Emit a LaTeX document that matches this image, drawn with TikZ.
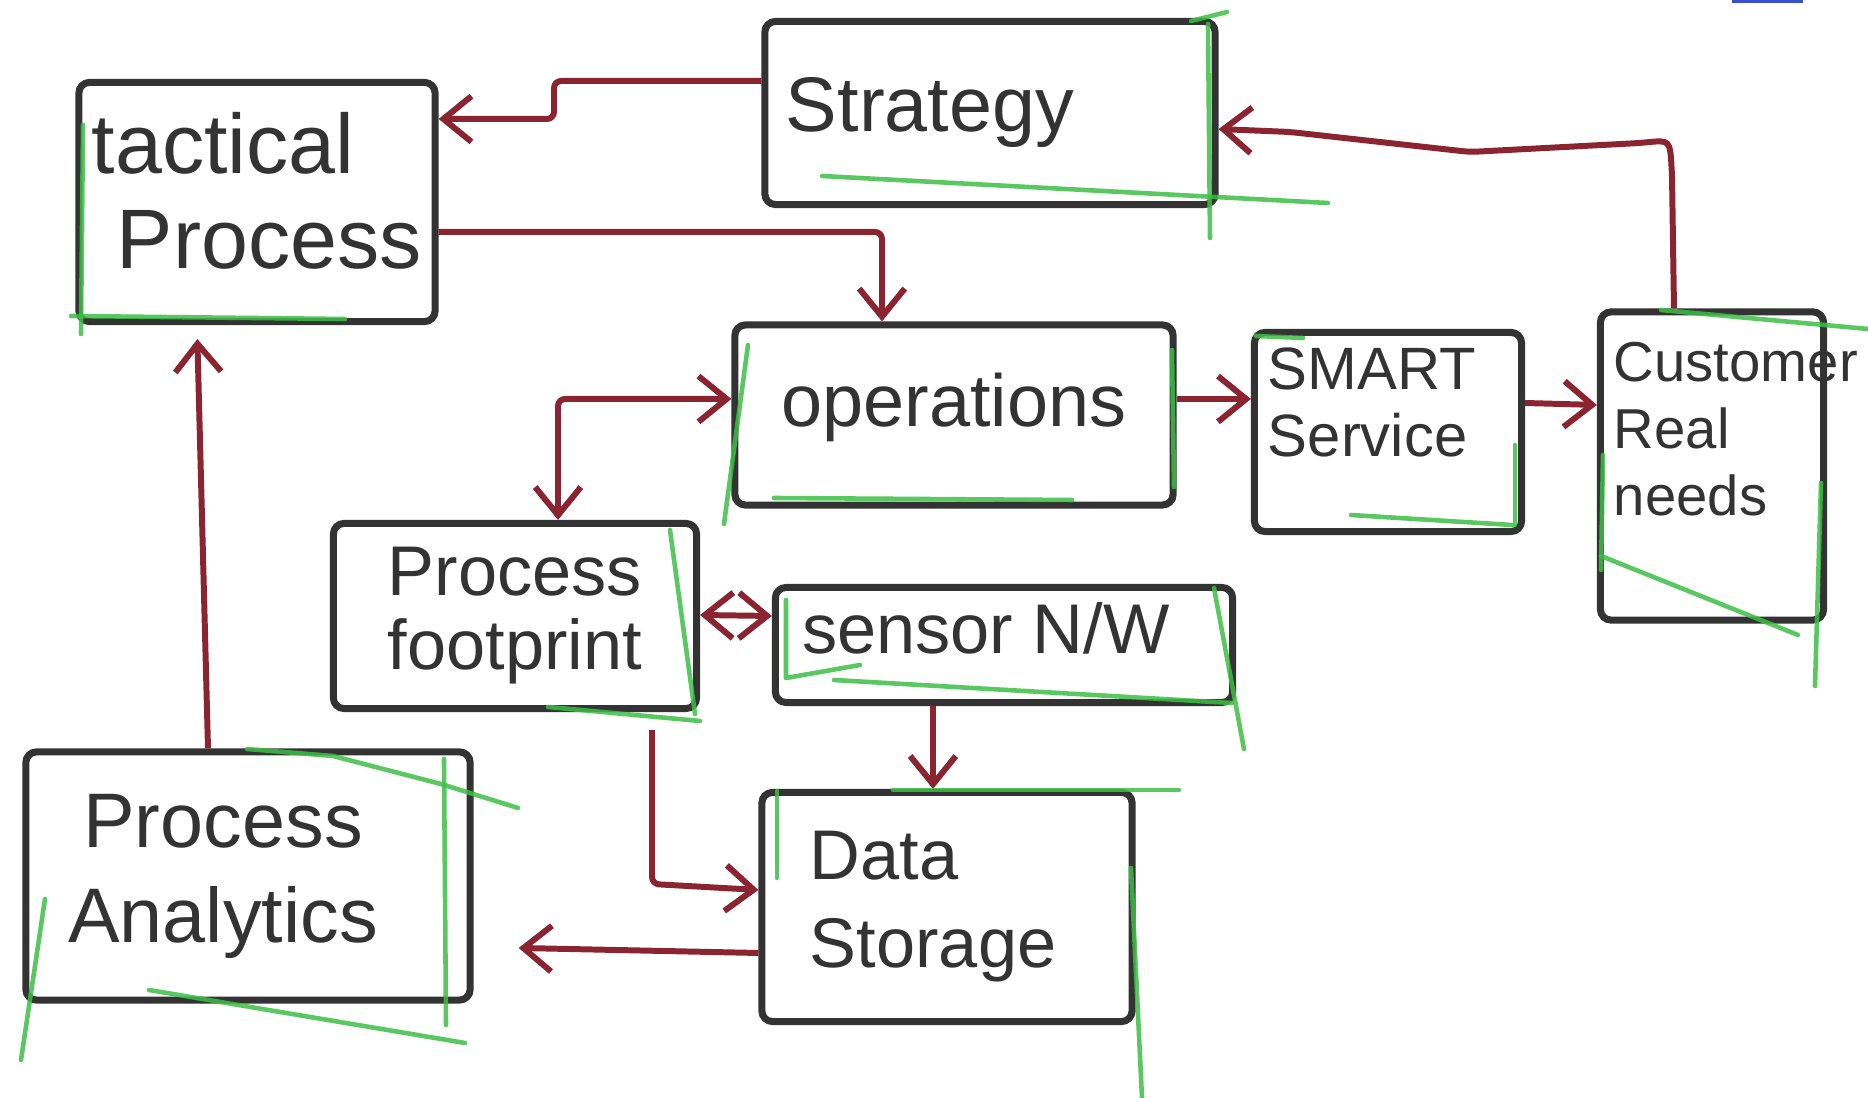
\documentclass[tikz,border=0pt]{standalone}
\usepackage{fontspec}
\setmainfont{Liberation Sans}
\usetikzlibrary{arrows.meta}
\definecolor{ink}{HTML}{333333}
\definecolor{redink}{HTML}{8A2430}
\definecolor{hl}{HTML}{3DBE45}
\definecolor{blueink}{HTML}{3A4FD0}
\newcommand{\padbelow}[1]{\rule[-#1]{0pt}{0pt}}
\begin{document}
\begin{tikzpicture}[x=0.01cm,y=-0.01cm,
  >={Straight Barb[length=8pt,width=13pt]},
  box/.style={draw=ink, line width=2pt, rounded corners=3pt, text=ink, inner sep=0pt},
  conn/.style={draw=redink, line width=1.7pt, ->, rounded corners=2pt},
  bi/.style={draw=redink, line width=1.7pt, <->, rounded corners=2pt},
  hlmark/.style={draw=hl, line width=1.3pt, opacity=0.85, line cap=round, line join=round},
]
\useasboundingbox (0,0) rectangle (1868,1098);

% boxes
\node[box, minimum width=4.5cm, minimum height=1.83cm, font=\fontsize{22}{26}\selectfont] (strat) at (990,113) {Strategy\hspace{1.2cm}\mbox{}};
\node[box, minimum width=3.56cm, minimum height=2.39cm, text width=3.3cm, align=left, font=\fontsize{24}{27}\selectfont] (tact) at (257,202) {tactical\\\hspace*{0.25cm}Process\padbelow{0.24cm}};
\node[box, minimum width=4.38cm, minimum height=1.8cm, font=\fontsize{21}{25}\selectfont] (ops) at (954,415) {operations\padbelow{0.3cm}};
\node[box, minimum width=2.67cm, minimum height=1.99cm, text width=2.4cm, align=left, font=\fontsize{17}{19}\selectfont] (smart) at (1388,432) {SMART\\Service\padbelow{0.6cm}};
\node[box, minimum width=2.23cm, minimum height=3.08cm, text width=1.96cm, align=left, font=\fontsize{16}{19}\selectfont] (cust) at (1712,466) {Customer\\Real\\needs\padbelow{0.74cm}};
\node[box, minimum width=3.63cm, minimum height=1.85cm, align=center, font=\fontsize{20}{21}\selectfont] (fp) at (515,616) {Process\\footprint};
\node[box, minimum width=4.57cm, minimum height=1.15cm, font=\fontsize{20}{24}\selectfont] (sens) at (1004,645) {sensor N/W\hspace{0.36cm}\padbelow{0.34cm}};
\node[box, minimum width=4.44cm, minimum height=2.48cm, align=center, font=\fontsize{22}{27}\selectfont] (pa) at (248,876) {Process\hspace{0.5cm}\mbox{}\\Analytics\hspace{0.5cm}\mbox{}};
\node[box, minimum width=3.7cm, minimum height=2.29cm, text width=2.74cm, align=left, font=\fontsize{20}{25}\selectfont] (ds) at (947,907) {Data\\Storage};

% connectors
\draw[conn] (strat.west |- 0,81) -- (554,81) -- (554,119) -- (tact.east |- 0,119);
\draw[conn] (tact.east |- 0,232) -- (882,232) -- (ops.north -| 882,0);
\draw[conn] (cust.north -| 1674,0) -- (1672,175) .. controls (1670,140) .. (1640,143) -- (1470,152) -- (1290,132) -- (strat.east |- 0,129);
\draw[conn] (ops.east |- 0,399) -- (smart.west |- 0,399);
\draw[conn] (smart.east |- 0,403) -- (cust.west |- 0,405);
\draw[bi] (ops.west |- 0,399) -- (558,399) -- (fp.north -| 558,0);
\draw[bi] (fp.east |- 0,615) -- (sens.west |- 0,616);
\draw[conn] (sens.south -| 933,0) -- (ds.north -| 933,0);
\draw[conn, shorten <=0.18cm] (fp.south -| 652,0) -- (652,884) -- (ds.west |- 0,890);
\draw[conn, shorten >=0.45cm] (ds.west |- 0,953) -- (pa.east |- 0,947);
\draw[conn, shorten >=0.14cm] (pa.north -| 208,0) -- (tact.south -| 197,0);

% green highlight strokes
\draw[hlmark] (83,125) -- (81,334);
\draw[hlmark] (71,316) -- (345,319);
\draw[hlmark] (1191,21) -- (1227,12);
\draw[hlmark] (1208,24) -- (1210,238);
\draw[hlmark] (822,176) -- (1328,203);
\draw[hlmark] (748,345) -- (724,524);
\draw[hlmark] (774,498) -- (1072,500);
\draw[hlmark] (1172,350) -- (1174,487);
\draw[hlmark] (1256,336) -- (1303,338);
\draw[hlmark] (1351,515) -- (1512,525);
\draw[hlmark] (1515,445) -- (1515,525);
\draw[hlmark] (1661,310) -- (1868,329);
\draw[hlmark] (1603,455) -- (1601,570);
\draw[hlmark] (1601,556) -- (1798,635);
\draw[hlmark] (1821,483) -- (1815,686);
\draw[hlmark] (670,530) -- (695,714);
\draw[hlmark] (548,707) -- (700,721);
\draw[hlmark] (786,600) -- (786,678) -- (860,665);
\draw[hlmark] (834,680) -- (1232,703);
\draw[hlmark] (1214,588) -- (1244,749);
\draw[hlmark] (893,790) -- (1179,790);
\draw[hlmark] (777,791) -- (777,878);
\draw[hlmark] (1131,868) -- (1142,1098);
\draw[hlmark] (247,749) -- (333,756) -- (441,784) -- (518,808);
\draw[hlmark] (444,759) -- (446,1025);
\draw[hlmark] (149,990) -- (465,1043);
\draw[hlmark] (45,899) -- (21,1060);

% small blue mark at top edge
\draw[blueink, line width=1.2pt] (1732,1) -- (1803,1);
\end{tikzpicture}
\end{document}
